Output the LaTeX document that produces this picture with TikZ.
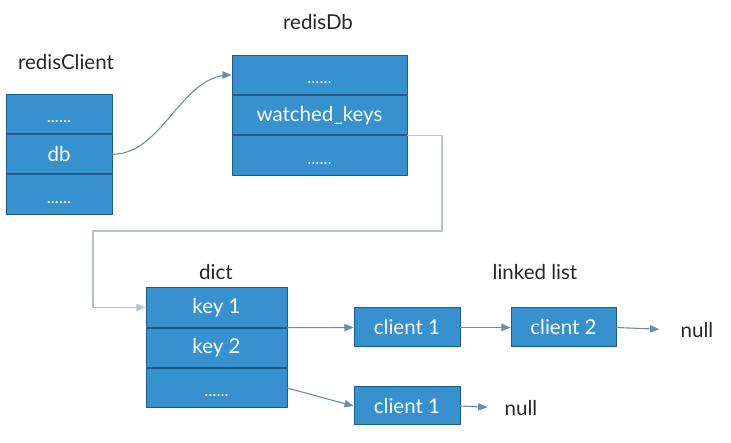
\documentclass[tikz,border=0pt]{standalone}
\usepackage{fontspec}
\setmainfont{Lato}
\usetikzlibrary{arrows}
\usetikzlibrary{positioning}
\definecolor{boxblue}{RGB}{55,145,207}
\definecolor{rowline}{RGB}{30,92,140}
\definecolor{arrowgray}{RGB}{108,142,162}
\definecolor{loopgray}{RGB}{185,195,202}
\newcommand{\rowdots}{\vphantom{Ay}\raisebox{-3pt}{\fontsize{17}{19}\selectfont......}}
\tikzset{
  cell/.style={draw=rowline, line width=1pt, fill=boxblue, text=white, minimum height=39.3pt, inner sep=0pt, font=\fontsize{20.5}{24}\selectfont},
  title/.style={font=\fontsize{20.5}{24}\selectfont, text=black!85},
  link/.style={->, draw=arrowgray, line width=1.1pt}
}
\begin{document}
\begin{tikzpicture}[line cap=round,line join=round,>=triangle 45,x=1pt,y=-1pt]
\useasboundingbox (0,0) rectangle (731,443);
% redisClient
\node[title] (cliTitle) at (66,62) {redisClient};
\node[cell, minimum width=106pt] (cliTop) at (59,114) {\rowdots};
\node[cell, minimum width=106pt, below=0pt of cliTop] (cliDb) {db};
\node[cell, minimum width=106pt, below=0pt of cliDb] (cliBot) {\rowdots};
% redisDb
\node[title] (dbTitle) at (318,22) {redisDb};
\node[cell, minimum width=175pt] (dbTop) at (319.5,75) {\rowdots};
\node[cell, minimum width=175pt, below=0pt of dbTop] (dbKeys) {watched\_keys};
\node[cell, minimum width=175pt, below=0pt of dbKeys] (dbBot) {\rowdots};
% dict
\node[title] (dictTitle) at (216,272) {dict};
\node[cell, minimum width=141pt] (dictK1) at (216.5,307.5) {key 1};
\node[cell, minimum width=141pt, below=0pt of dictK1] (dictK2) {key 2};
\node[cell, minimum width=141pt, below=0pt of dictK2] (dictEtc) {\rowdots};
% linked lists
\node[title] (listTitle) at (535,272) {linked list};
\node[cell, minimum width=106pt, minimum height=39pt] (listA1) at (407,327.5) {client 1};
\node[cell, minimum width=105pt, minimum height=39pt] (listA2) at (563.5,327.5) {client 2};
\node[title] (nullA) at (697,330) {null};
\node[cell, minimum width=106pt, minimum height=38pt] (listB1) at (407,406) {client 1};
\node[title] (nullB) at (521,408) {null};
% connectors
\coordinate (bendA) at (442,231);
\coordinate (bendB) at (93,231);
\draw[link] (cliDb.east) to[out=0,in=180,looseness=0.9] (dbTop.west);
\draw[->, draw=loopgray, line width=1.1pt] (dbKeys.south east) -| (bendA) -- (bendB) |- (dictK1.west);
\draw[link] (dictK1.south east) -- (listA1.west);
\draw[link] (dictEtc.east) -- (listB1.west);
\draw[link] (listA1.east) -- (listA2.west);
\draw[link, shorten >=18pt] (listA2.east) -- (nullA.west);
\draw[link, shorten >=14pt] (listB1.east) -- (nullB.west);
\end{tikzpicture}
\end{document}
